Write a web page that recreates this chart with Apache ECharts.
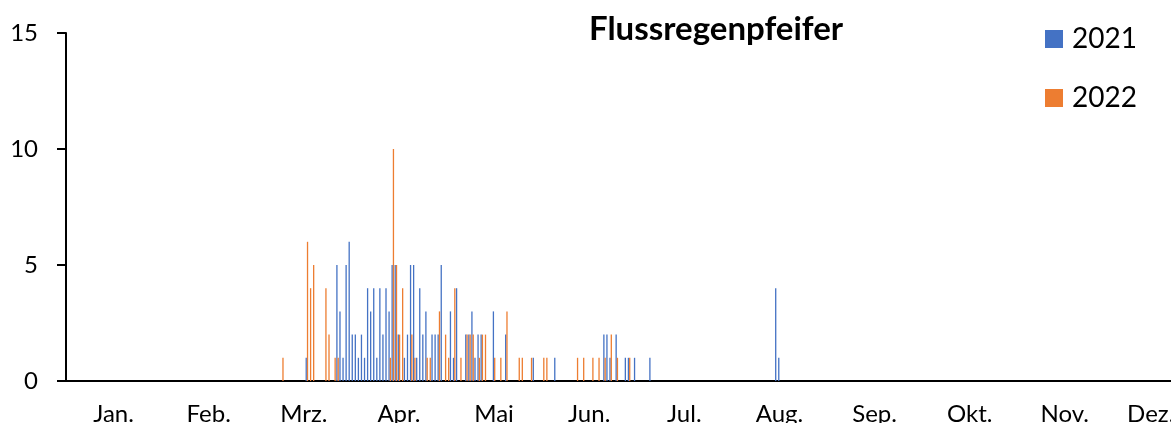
<!DOCTYPE html>
<html>
<head>
<meta charset="utf-8">
<title>Flussregenpfeifer</title>
<script src="https://cdn.jsdelivr.net/npm/echarts@6.0.0/dist/echarts.min.js"></script>
<style>
  html, body { margin: 0; padding: 0; background: #fff; }
  #chart { width: 1171px; height: 423px; }
</style>
</head>
<body>
<div id="chart"></div>
<script>
// month labels under the axis, one per block of 31 days
const monthLabels = ['Jan.', 'Feb.', 'Mrz.', 'Apr.', 'Mai', 'Jun.', 'Jul.', 'Aug.', 'Sep.', 'Okt.', 'Nov.', 'Dez.']
const dayCount = 365
const blockSize = 31

// day of year (1..365) and number of birds
const days2021 = [79, 89, 90, 91, 92, 93, 94, 95, 96, 97, 98, 99, 100, 101, 102, 103, 104, 105, 106, 107,
  108, 109, 111, 112, 113, 114, 115, 116, 117, 118, 120, 121, 122, 123, 126, 127, 128, 131, 132, 133,
  134, 135, 136, 140, 144, 153, 160, 176, 177, 178, 180, 183, 184, 186, 191, 232, 233]
const counts2021 = [1, 5, 3, 1, 5, 6, 2, 2, 1, 2, 1, 4, 3, 4, 1, 4, 2, 4, 3, 5,
  5, 2, 1, 2, 5, 5, 1, 4, 2, 3, 2, 2, 2, 5, 3, 1, 4, 2, 2, 3,
  1, 2, 2, 3, 2, 1, 1, 2, 2, 1, 2, 1, 1, 1, 1, 4, 1]

const days2022 = [71, 79, 80, 81, 85, 86, 88, 89, 106, 107, 108, 109, 110, 113, 114, 118, 119, 122, 124, 125,
  127, 129, 131, 132, 133, 135, 136, 137, 140, 142, 144, 148, 149, 152, 156, 157, 167, 169, 172, 174,
  176, 178, 180, 184]
const counts2022 = [1, 6, 4, 5, 4, 2, 1, 1, 1, 10, 5, 2, 4, 2, 1, 1, 1, 3, 2, 1,
  4, 1, 2, 2, 2, 1, 2, 2, 1, 1, 3, 1, 1, 1, 1, 1, 1, 1, 1, 1,
  1, 2, 1, 1]

const categories = Array.from({ length: dayCount }, (_, i) => String(i + 1))

// label sits in the middle of each block of days
const labelIndex = monthLabels.map((m, k) => {
  const start = k * blockSize
  const end = Math.min(start + blockSize, dayCount)
  return Math.floor((start + end) / 2)
})

function toSeries(days, counts) {
  const out = new Array(dayCount).fill(null)
  days.forEach((d, i) => {
    out[d - 1] = counts[i]
  })
  return out
}

const chart = echarts.init(document.getElementById('chart'))
chart.setOption({
  animation: false,
  textStyle: { fontFamily: 'Lato' },
  title: {
    text: 'Flussregenpfeifer',
    left: 584,
    top: 8,
    textStyle: { fontSize: 33, fontWeight: 'bold', color: '#000', fontFamily: 'Lato' }
  },
  legend: {
    orient: 'vertical',
    left: 1045,
    top: 25,
    padding: 0,
    itemWidth: 18,
    itemHeight: 18,
    itemGap: 31,
    icon: 'rect',
    textStyle: { fontSize: 28, color: '#000', fontFamily: 'Lato', padding: [0, 0, 0, 4] },
    data: ['2021', '2022']
  },
  grid: {
    left: 66,
    top: 33,
    width: 1120,
    height: 348,
    outerBoundsMode: 'none'
  },
  xAxis: {
    type: 'category',
    data: categories,
    boundaryGap: true,
    axisLine: { lineStyle: { color: '#000', width: 2 } },
    axisTick: {
      length: 9,
      lineStyle: { color: '#000', width: 2 },
      interval: (i) => i % blockSize === 0
    },
    axisLabel: {
      interval: (i) => labelIndex.includes(i),
      formatter: (v, i) => monthLabels[Math.floor(i / blockSize)],
      fontSize: 24,
      margin: 21,
      color: '#000',
      fontFamily: 'Lato'
    }
  },
  yAxis: {
    type: 'value',
    min: 0,
    max: 15,
    interval: 5,
    splitLine: { show: false },
    axisLine: { show: true, lineStyle: { color: '#000', width: 2 } },
    axisTick: { show: true, length: 9, lineStyle: { color: '#000', width: 2 } },
    axisLabel: { fontSize: 24, margin: 28, color: '#000', fontFamily: 'Lato' }
  },
  series: [
    {
      name: '2021',
      type: 'bar',
      data: toSeries(days2021, counts2021),
      barWidth: 1.3,
      barGap: '0%',
      itemStyle: { color: '#4472C4' }
    },
    {
      name: '2022',
      type: 'bar',
      data: toSeries(days2022, counts2022),
      barWidth: 1.3,
      barGap: '0%',
      itemStyle: { color: '#ED7D31' }
    }
  ]
})
</script>
</body>
</html>
